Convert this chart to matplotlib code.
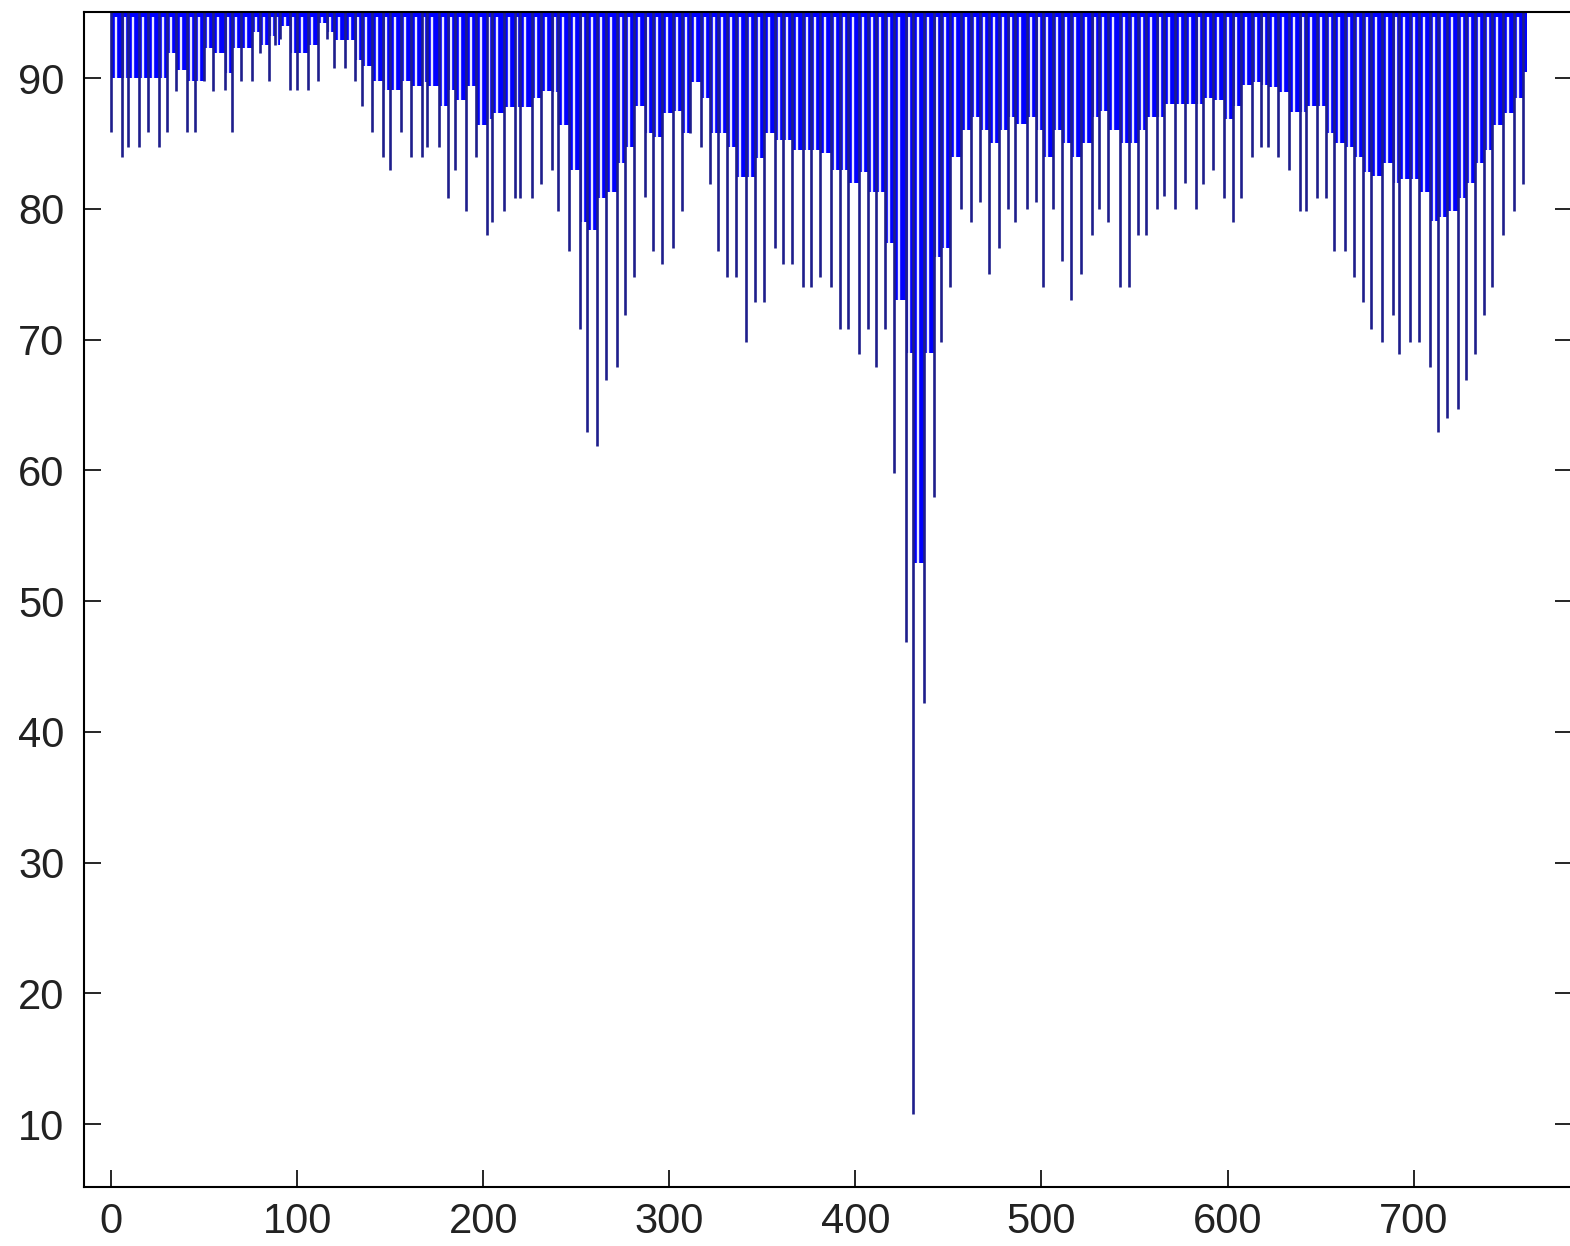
import matplotlib.pyplot as plt
import numpy as np

# x position of each downward spike, its lowest value, and the level the
# blue fill reaches between this spike and the next one
dip_x = [0, 6, 9, 15, 20, 26, 30, 35, 41, 45, 50, 55,
         61, 65, 70, 76, 80, 85, 88, 91, 96, 100, 106, 111, 116, 120, 126, 131,
         135, 140, 146, 150, 156, 161, 167, 170, 176, 181, 185, 191, 196, 202,
         205, 211, 217, 220, 226, 231, 237, 240, 246, 252, 256, 261, 266, 272, 276,
         281, 287, 291, 296, 302, 307, 311, 317, 322, 326, 331, 336, 341, 346,
         351, 357, 361, 366, 372, 376, 381, 387, 392, 396, 402, 407, 411, 416,
         421, 427, 431, 437, 442, 446, 451,
         457, 462, 467, 472, 477, 482, 486, 492, 497, 501, 506, 511, 516, 521,
         527, 531, 536, 542, 547, 552, 556, 562, 566, 572, 577, 583,
         587, 592, 598, 603, 607, 613, 618, 622, 627, 633, 639, 642, 648, 653,
         657, 663, 668, 673, 677,
         683, 689, 692, 698, 703, 709, 713, 718, 724, 728, 733, 738, 742, 748,
         754, 759]
dip_y = [85.9, 84.0, 84.7, 84.7, 85.9, 84.7, 85.9, 89.0, 85.9, 85.9, 89.8, 89.0,
         89.1, 85.9, 89.8, 89.8, 91.9, 89.8, 92.5, 93.0, 89.1, 89.1, 89.1, 89.8, 93.0, 90.8, 90.8, 89.8,
         87.9, 85.9, 84.0, 83.0, 85.9, 84.0, 84.0, 84.7, 84.7, 80.8, 83.0, 79.8, 84.0, 78.0,
         79.0, 79.8, 80.8, 80.8, 80.8, 81.9, 83.0, 79.8, 76.8, 70.8, 62.9, 61.9, 66.9, 67.9, 71.9,
         74.8, 80.9, 76.8, 75.8, 77.0, 79.8, 85.8, 84.7, 81.9, 76.8, 74.8, 74.8, 69.8, 72.9,
         72.9, 77.0, 75.8, 75.8, 74.0, 74.0, 74.8, 74.0, 70.8, 70.8, 68.9, 70.8, 67.9, 70.8,
         59.8, 46.9, 10.8, 42.2, 58.0, 69.8, 74.0,
         80.0, 79.0, 80.5, 75.0, 77.0, 80.0, 79.0, 80.0, 80.5, 74.0, 80.0, 76.0, 73.0, 75.0,
         78.0, 80.0, 79.0, 74.0, 74.0, 78.0, 78.0, 80.0, 81.0, 80.0, 82.0, 80.0,
         81.9, 83.0, 80.8, 79.0, 80.8, 84.0, 84.7, 84.7, 84.0, 83.0, 79.8, 79.8, 80.8, 80.8,
         76.8, 76.8, 74.8, 72.9, 70.8,
         69.8, 71.9, 68.9, 69.8, 69.8, 67.9, 62.9, 64.0, 64.7, 66.9, 68.9, 71.9, 74.0, 78.0,
         79.8, 81.9]
fill_y = [90.0, 90.0, 90.0, 90.0, 90.0, 90.0, 91.9, 90.6, 89.8, 89.8, 92.3, 91.9,
          90.4, 92.3, 92.3, 93.5, 92.5, 93.2, 92.5, 94.0, 91.9, 91.9, 92.5, 94.2, 93.5, 92.9, 92.9, 91.4,
          90.9, 89.8, 89.1, 89.1, 89.8, 89.4, 89.7, 89.4, 87.9, 89.1, 88.3, 89.4, 86.4, 86.9,
          87.3, 87.8, 87.8, 87.8, 88.5, 89.0, 88.9, 86.4, 83.0, 79.0, 78.4, 80.8, 81.3, 83.5, 84.7,
          87.9, 85.8, 85.5, 87.3, 87.5, 85.8, 89.7, 88.5, 85.8, 85.8, 84.7, 82.4, 82.4, 83.9,
          85.8, 85.3, 85.3, 84.5, 84.5, 84.5, 84.3, 83.0, 83.0, 82.0, 82.8, 81.3, 81.3, 77.4,
          73.0, 69.0, 52.9, 69.0, 76.3, 77.0, 84.0,
          86.0, 87.0, 86.0, 85.0, 86.0, 87.0, 86.5, 87.0, 86.0, 84.0, 86.0, 85.0, 84.0, 85.0,
          87.0, 87.5, 86.0, 85.0, 85.0, 86.0, 87.0, 87.0, 88.0, 88.0, 88.0, 88.0,
          88.5, 88.3, 86.9, 87.9, 89.5, 89.7, 89.5, 89.3, 88.9, 87.4, 87.4, 87.9, 87.9, 85.8,
          85.0, 84.7, 84.0, 82.8, 82.5,
          83.5, 82.0, 82.3, 82.3, 81.3, 79.1, 79.4, 79.8, 80.8, 82.0, 83.5, 84.5, 86.4, 87.3,
          88.5, 90.5]
x_end = 761

x_ticks = [0, 100, 200, 300, 400, 500, 600, 700]
y_ticks = [10, 20, 30, 40, 50, 60, 70, 80, 90]

plt.rcParams['font.family'] = ['Liberation Sans', 'DejaVu Sans']

W, H = 1570, 1246
fig = plt.figure(figsize=(W / 100, H / 100), dpi=100)
ax = fig.add_axes([84 / W, (H - 1187) / H, (1572 - 84) / W, (1187 - 12) / H])
y_top = 95.05

edges = np.append(dip_x, x_end)
levels = np.append(fill_y, fill_y[-1])
ax.fill_between(edges, levels, y_top, step='post', color='#0000ff', lw=0)

# thin white gaps between spikes
dx = np.array(dip_x, dtype=float)
seg_w = np.diff(edges)
peak_x = dx + 0.45 * seg_w
keep = seg_w >= 3
ax.vlines(peak_x[keep], np.array(fill_y)[keep], 94.7, color='#e8e7ff', lw=1.7)

ax.vlines(dip_x, dip_y, y_top, color='#1e1e8c', lw=1.9)

ax.set_xlim(-14.5, 785.1)
ax.set_ylim(5.2, y_top)
ax.set_xticks(x_ticks)
ax.set_yticks(y_ticks)
ax.tick_params(direction='in', length=12, width=1.2, top=False, right=True,
               labelsize=30, labelcolor='#222222')
ax.tick_params(axis='y', pad=14)
ax.tick_params(axis='x', pad=11)
for s in ax.spines.values():
    s.set_linewidth(1.5)

fig.savefig('out.png', dpi=100)
